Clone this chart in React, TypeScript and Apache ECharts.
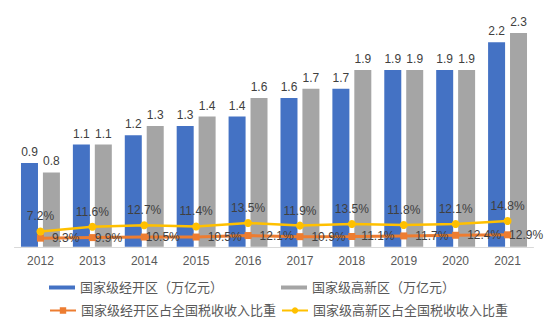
import React, { useEffect, useRef } from "react";
import * as echarts from "echarts";

const years = ["2012", "2013", "2014", "2015", "2016", "2017", "2018", "2019", "2020", "2021"];
const jingkai = [0.9, 1.1, 1.2, 1.3, 1.4, 1.6, 1.7, 1.9, 1.9, 2.2];
const gaoxin = [0.8, 1.1, 1.3, 1.4, 1.6, 1.7, 1.9, 1.9, 1.9, 2.3];
const jingkaiShare = [9.3, 9.9, 10.5, 10.5, 12.1, 10.9, 11.1, 11.7, 12.4, 12.9];
const gaoxinShare = [7.2, 11.6, 12.7, 11.4, 13.5, 11.9, 13.5, 11.8, 12.1, 14.8];

const names = [
  "国家级经开区（万亿元）",
  "国家级高新区（万亿元）",
  "国家级经开区占全国税收收入比重",
  "国家级高新区占全国税收收入比重",
];

// label distance tweaks for the orange share labels (placed to the right of points)
const jingkaiLabelDistance = [8, -1, -2, 8, 8, 8, 6, 8, 8, -2];

const FONT = "Arial, 'Liberation Sans', 'Noto Sans CJK SC', sans-serif";

export default function App() {
  const ref = useRef<HTMLDivElement>(null);
  useEffect(() => {
    if (!ref.current) return;
    const chart = echarts.init(ref.current, null, { renderer: "svg" });
    const legendText = { color: "#595959", fontSize: 13, fontFamily: FONT };
    const mkLegend = (name: string, left: number, top: number, isBar: boolean) => ({
      data: [name],
      left,
      top,
      itemWidth: 26,
      itemHeight: isBar ? 4 : 8,
      itemGap: 4,
      icon: isBar ? "rect" : undefined,
      textStyle: legendText,
      selectedMode: false,
    });
    const pct = (p: any) => (p.value * 100).toFixed(1) + "%";
    chart.setOption({
      animation: false,
      textStyle: { fontFamily: FONT },
      legend: [
        mkLegend(names[0], 44, 276, true),
        mkLegend(names[1], 276, 276, true),
        mkLegend(names[2], 44, 299, false),
        mkLegend(names[3], 276, 299, false),
      ],
      grid: { left: 14.5, right: 14.5, top: 14.3, bottom: 79.2 },
      xAxis: {
        type: "category",
        data: years,
        axisLine: { lineStyle: { color: "#D9D9D9", width: 1 } },
        axisTick: { show: false },
        axisLabel: { color: "#595959", fontSize: 12, margin: 8, fontFamily: FONT },
      },
      yAxis: {
        type: "value",
        min: 0,
        max: 2.5,
        show: false,
        splitLine: { show: false },
      },
      series: [
        {
          name: names[0],
          type: "bar",
          data: jingkai,
          barWidth: 17,
          barGap: "29%",
          itemStyle: { color: "#4472C4" },
          label: { show: true, position: "top", color: "#404040", fontSize: 12, fontFamily: FONT },
        },
        {
          name: names[1],
          type: "bar",
          data: gaoxin,
          barWidth: 17,
          barGap: "29%",
          itemStyle: { color: "#A5A5A5" },
          label: { show: true, position: "top", color: "#404040", fontSize: 12, fontFamily: FONT },
        },
        {
          name: names[2],
          type: "line",
          stack: "share",
          data: jingkaiShare.map((v, i) => ({
            value: v / 100,
            label: { distance: jingkaiLabelDistance[i] },
          })),
          symbol: "rect",
          symbolSize: 7,
          lineStyle: { color: "#ED7D31", width: 3 },
          itemStyle: { color: "#ED7D31" },
          z: 5,
          label: {
            show: true,
            position: "right",
            distance: 8,
            color: "#404040",
            fontSize: 12,
            fontFamily: FONT,
            formatter: pct,
          },
        },
        {
          name: names[3],
          type: "line",
          stack: "share",
          data: gaoxinShare.map((v) => v / 100),
          symbol: "circle",
          symbolSize: 8,
          lineStyle: { color: "#FFC000", width: 2.5 },
          itemStyle: { color: "#FFC000" },
          z: 6,
          label: {
            show: true,
            position: "top",
            distance: 5,
            color: "#404040",
            fontSize: 12,
            fontFamily: FONT,
            formatter: pct,
          },
        },
      ],
    });
    return () => chart.dispose();
  }, []);
  return <div ref={ref} style={{ width: 548, height: 326, position: "absolute", left: 0, top: 0 }} />;
}
